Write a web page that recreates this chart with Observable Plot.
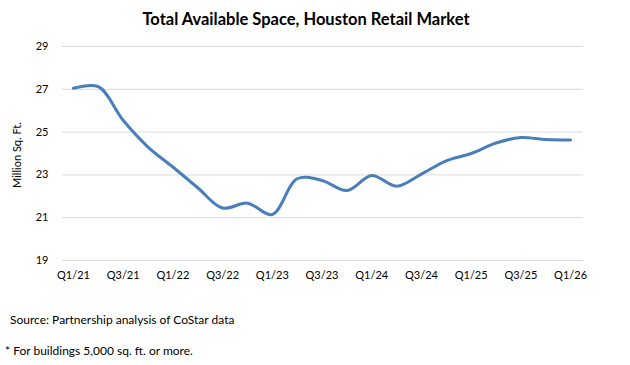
<!DOCTYPE html>
<html>
<head>
<meta charset="utf-8">
<script src="https://cdn.jsdelivr.net/npm/d3@7"></script>
<script src="https://cdn.jsdelivr.net/npm/@observablehq/plot@0.6"></script>
<style>
  body { margin: 0; background: #fff; font-family: Lato, "Open Sans", sans-serif; }
  #wrap { position: relative; width: 630px; height: 365px; }
  #title { position: absolute; left: 0; top: 9px; width: 612px; text-align: center; font-weight: bold; font-size: 16.5px; color: #000; }
  #chart { position: absolute; left: 0; top: 32px; }
  #ylab { position: absolute; left: 16px; top: 155px; transform: translate(-50%, -50%) rotate(-90deg); font-size: 11px; white-space: nowrap; color: #000; }
  .note { position: absolute; font-size: 12px; color: #000; white-space: nowrap; }
</style>
</head>
<body>
<div id="wrap">
  <div id="title">Total Available Space, Houston Retail Market</div>
  <div id="chart"></div>
  <div id="ylab">Million Sq. Ft.</div>
  <div class="note" id="src" style="left:10px; top:312px;">Source: Partnership analysis of CoStar data</div>
  <div class="note" id="fn" style="left:5px; top:343px;">* For buildings 5,000 sq. ft. or more.</div>
</div>
<script>
const quarters = ["Q1/21","Q2/21","Q3/21","Q4/21","Q1/22","Q2/22","Q3/22","Q4/22","Q1/23","Q2/23","Q3/23","Q4/23","Q1/24","Q2/24","Q3/24","Q4/24","Q1/25","Q2/25","Q3/25","Q4/25","Q1/26"];
const values = [27.05, 27.12, 25.55, 24.3, 23.37, 22.4, 21.45, 21.68, 21.15, 22.82, 22.74, 22.27, 22.97, 22.47, 23.04, 23.66, 24.0, 24.49, 24.75, 24.65, 24.63];
const yTicks = [19, 21, 23, 25, 27, 29];
const xTickLabels = ["Q1/21","Q3/21","Q1/22","Q3/22","Q1/23","Q3/23","Q1/24","Q3/24","Q1/25","Q3/25","Q1/26"];

const data = quarters.map((q, i) => ({i, q, v: values[i]}));
const xTickIdx = xTickLabels.map(l => quarters.indexOf(l));

const chart = Plot.plot({
  width: 630,
  height: 258,
  marginLeft: 62,
  marginRight: 47,
  marginTop: 14,
  marginBottom: 30,
  style: {fontFamily: "Lato, 'Open Sans', sans-serif", fontSize: "11px", color: "#000", background: "transparent"},
  x: {domain: [-0.44, 20.52]},
  y: {domain: [19, 29]},
  marks: [
    Plot.ruleY(yTicks, {stroke: "#d9d9d9", strokeWidth: 1}),
    Plot.axisY({ticks: yTicks, tickSize: 0, tickPadding: 14, label: null, fontSize: 11}),
    Plot.axisX({ticks: xTickIdx, tickSize: 0, tickPadding: 11, tickFormat: i => quarters[i], label: null, fontSize: 11}),
    Plot.line(data, {x: "i", y: "v", stroke: "#4a7ebb", strokeWidth: 3, curve: "catmull-rom"})
  ]
});
document.getElementById("chart").appendChild(chart);
</script>
</body>
</html>
